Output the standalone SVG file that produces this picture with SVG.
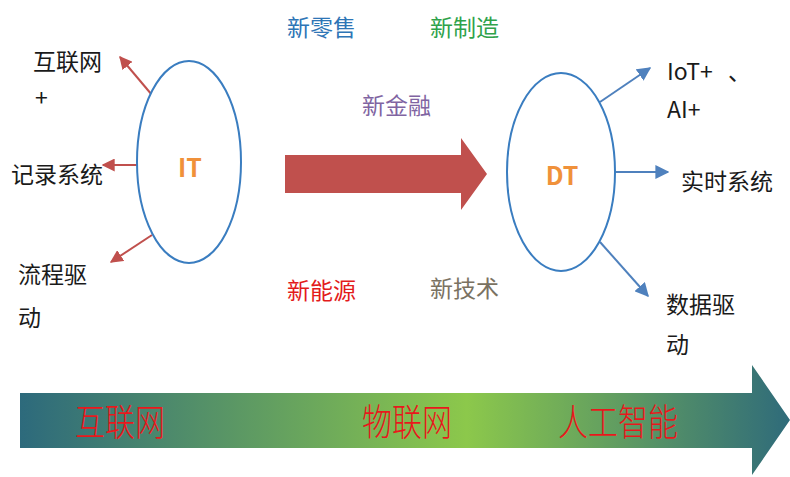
<svg xmlns="http://www.w3.org/2000/svg" width="790" height="477" viewBox="0 0 790 477">
<style>
.t{font-family:"Noto Sans CJK SC","Liberation Sans",sans-serif;font-size:23px;fill:#1a1a1a}
.lbl{font-family:"Noto Sans CJK SC",sans-serif;font-size:23px}
.big{font-family:"Noto Sans CJK SC",sans-serif;font-size:25px;font-weight:bold;fill:#F0913A;text-anchor:middle}
.band{font-family:"Noto Sans CJK SC",serif;font-size:37px;fill:#E8181C;font-weight:300}
.ell{fill:#fff;stroke:#3A7DC0;stroke-width:2}
.ra{stroke:#C0504D;stroke-width:2;fill:none;marker-end:url(#mr)}
.ba{stroke:#4F81BD;stroke-width:2;fill:none;marker-end:url(#mb)}
</style>
<defs>
<marker id="mr" viewBox="0 0 10 10" refX="9" refY="5" markerWidth="13" markerHeight="13" orient="auto" markerUnits="userSpaceOnUse">
<path d="M0,0 L10,5 L0,10 z" fill="#C0504D"/>
</marker>
<marker id="mb" viewBox="0 0 10 10" refX="9" refY="5" markerWidth="14" markerHeight="14" orient="auto" markerUnits="userSpaceOnUse">
<path d="M0,0 L10,5 L0,10 z" fill="#4F81BD"/>
</marker>
<linearGradient id="g" x1="0" y1="0" x2="1" y2="0">
<stop offset="0" stop-color="#2D6A7C"/>
<stop offset="0.58" stop-color="#8CC84B"/>
<stop offset="1" stop-color="#2F6B7A"/>
</linearGradient>
</defs>

<g id="connectors">
<line class="ra" x1="152" y1="95" x2="120" y2="57"/>
<line class="ra" x1="137" y1="165" x2="103" y2="165"/>
<line class="ra" x1="152" y1="235" x2="111" y2="262"/>
<line class="ba" x1="600" y1="102" x2="650" y2="68"/>
<line class="ba" x1="615" y1="172" x2="668" y2="172"/>
<line class="ba" x1="600" y1="242" x2="648" y2="296"/>
</g>

<g id="node-IT">
<ellipse class="ell" cx="189" cy="162" rx="52" ry="101"/>
<text class="big" x="190" y="177">IT</text>
</g>
<g id="node-DT">
<ellipse class="ell" cx="561" cy="172" rx="54" ry="99"/>
<text class="big" x="562" y="185">DT</text>
</g>

<g id="main-arrow">
<polygon points="285,155 461,155 461,138 487,174 461,210 461,193 285,193" fill="#C0504D"/>
</g>

<g id="left-labels">
<text class="t" x="33" y="70">互联网</text>
<text class="t" x="35" y="106">+</text>
<text class="t" x="11" y="183">记录系统</text>
<text class="t" x="18" y="283">流程驱</text>
<text class="t" x="18" y="326">动</text>
</g>

<g id="right-labels">
<text class="t" x="667" y="80">IoT+<tspan x="728">、</tspan></text>
<text class="t" x="667" y="118">AI+</text>
<text class="t" x="681" y="190">实时系统</text>
<text class="t" x="666" y="313">数据驱</text>
<text class="t" x="666" y="353">动</text>
</g>

<g id="center-labels">
<text class="lbl" x="287" y="36" fill="#2E75B6">新零售</text>
<text class="lbl" x="430" y="36" fill="#2EA24A">新制造</text>
<text class="lbl" x="362" y="114" fill="#8064A2">新金融</text>
<text class="lbl" x="287" y="299" fill="#E31B1B">新能源</text>
<text class="lbl" x="430" y="297" fill="#7A7262">新技术</text>
</g>

<g id="band">
<polygon points="20,393 752,393 752,365 790,420 752,475 752,448 20,448" fill="url(#g)"/>
<text class="band" transform="translate(75,436) scale(0.81,1)">互联网</text>
<text class="band" transform="translate(362,436) scale(0.81,1)">物联网</text>
<text class="band" transform="translate(558,436) scale(0.81,1)">人工智能</text>
</g>
</svg>
